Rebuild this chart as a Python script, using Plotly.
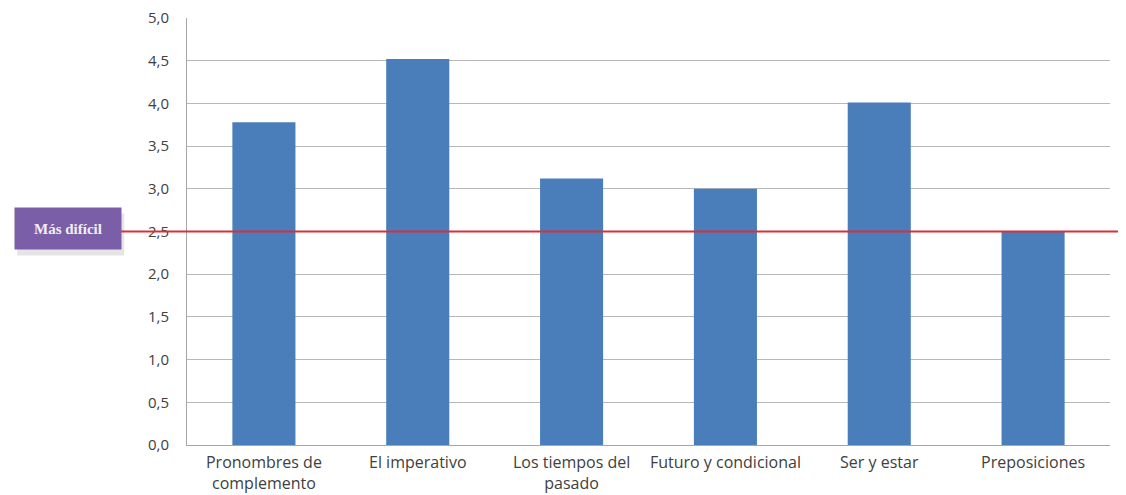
import plotly.graph_objects as go

categories = ["Pronombres de<br>complemento", "El imperativo", "Los tiempos del<br>pasado",
              "Futuro y condicional", "Ser y estar", "Preposiciones"]
scores = [3.78, 4.52, 3.12, 3.0, 4.01, 2.5]
y_ticks = [0.0, 0.5, 1.0, 1.5, 2.0, 2.5, 3.0, 3.5, 4.0, 4.5, 5.0]
threshold = 2.5
threshold_label = "Más difícil"

fig = go.Figure()
fig.add_trace(go.Bar(x=categories, y=scores, marker=dict(color="#4a7ebb", line_width=0),
                     showlegend=False))

# red threshold line, running from the label box to the right edge
fig.add_shape(type="line", xref="paper", yref="y", x0=-0.074, x1=1.03,
              y0=threshold, y1=threshold, line=dict(color="#d8303a", width=2), layer="above")

# soft shadow behind the label box
fig.add_shape(type="rect", xref="paper", yref="y", x0=-0.184, x1=-0.068,
              y0=threshold - 0.28, y1=threshold + 0.21, line_width=0,
              fillcolor="rgba(0,0,0,0.10)", layer="below")
fig.add_annotation(text=threshold_label, xref="paper", yref="y", x=-0.1289, y=threshold + 0.03,
                   xanchor="center", yanchor="middle",
                   showarrow=False, width=104, height=39, bgcolor="#7a5fa8",
                   font=dict(family="Liberation Serif, DejaVu Serif, serif", size=15,
                             color="#f2eef8", weight="bold"))

fig.update_layout(
    width=1118, height=487,
    separators=",.",
    paper_bgcolor="white", plot_bgcolor="white",
    margin=dict(l=179, r=16, t=10, b=50),
    bargap=0.59,
    font=dict(family="Open Sans, Noto Sans, sans-serif", size=16, color="#404040"),
    xaxis=dict(showline=True, linecolor="#a6a6a6", linewidth=1, showgrid=False,
               tickfont=dict(size=16), ticks="", ticklabelstandoff=3, automargin=False),
    yaxis=dict(range=[0, 5], tickmode="array", tickvals=y_ticks, tickformat=".1f",
               showline=True, linecolor="#a6a6a6", linewidth=1, gridcolor="#b8b8b8",
               gridwidth=1, ticks="", ticklabelstandoff=14, tickfont=dict(size=15),
               ticklabeloverflow="allow", zeroline=False, automargin=False),
)

fig.write_html("out.html")
